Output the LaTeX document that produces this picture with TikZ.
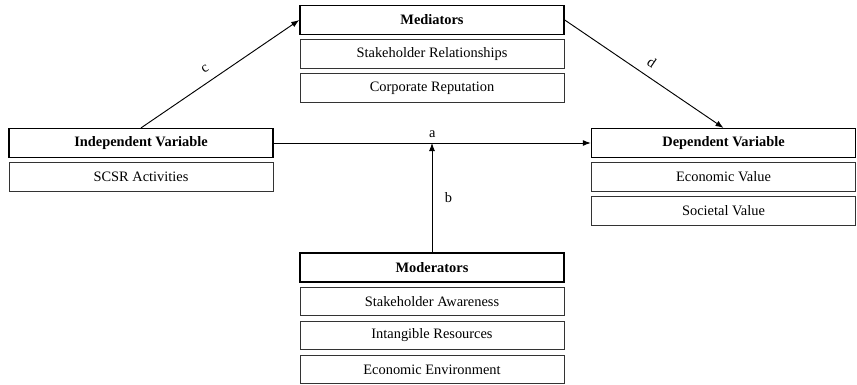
\documentclass[tikz,border=0pt]{standalone}
\usepackage{fontspec}
\setmainfont{Liberation Serif}
\usetikzlibrary{arrows.meta}

\begin{document}
\begin{tikzpicture}[x=0.75pt, y=-0.75pt, >={Latex[length=6pt, width=4.5pt]},
    head/.style={draw, line width=1.1pt, minimum width=198pt, minimum height=21.5pt, inner sep=0pt, font=\bfseries\fontsize{10.8}{13}\selectfont},
    item/.style={draw, black!80, text=black, line width=0.6pt, minimum width=198pt, minimum height=21.5pt, inner sep=0pt, font=\fontsize{10.8}{13}\selectfont},
    lab/.style={font=\fontsize{10.8}{13}\selectfont},
    link/.style={->, line width=0.7pt}]
    \useasboundingbox (0, 0) rectangle (857, 385);
    \node[head] (indep) at (141, 143) {Independent Variable};
    \node[item] (scsr)  at (141, 177) {SCSR Activities};
    \node[head] (med)   at (432, 20)  {Mediators};
    \node[item] (rel)   at (432, 54)  {Stakeholder Relationships};
    \node[item] (rep)   at (432, 88)  {Corporate Reputation};
    \node[head] (dep)   at (723.5, 143) {Dependent Variable};
    \node[item] (econ)  at (723.5, 177) {Economic Value};
    \node[item] (soc)   at (723.5, 211) {Societal Value};
    \node[head] (mod)   at (432, 267.5) {Moderators};
    \node[item] (aware) at (432, 301.5) {Stakeholder Awareness};
    \node[item] (intan) at (432, 335.5) {Intangible Resources};
    \node[item] (env)   at (432, 369.5) {Economic Environment};
    \coordinate (hit) at (432, 143);
    \draw[link] (indep.east) -- node[above, lab] {a} (dep.west);
    \draw[link] (mod.north) -- node[right=6pt, lab] {b} (hit);
    \draw[link] (indep.north) -- node[sloped, above=3pt, pos=0.45, lab] {c} (med.west);
    \draw[link] (med.east) -- node[sloped, above=3pt, lab] {d} (dep.north);
  \end{tikzpicture}
\end{document}
